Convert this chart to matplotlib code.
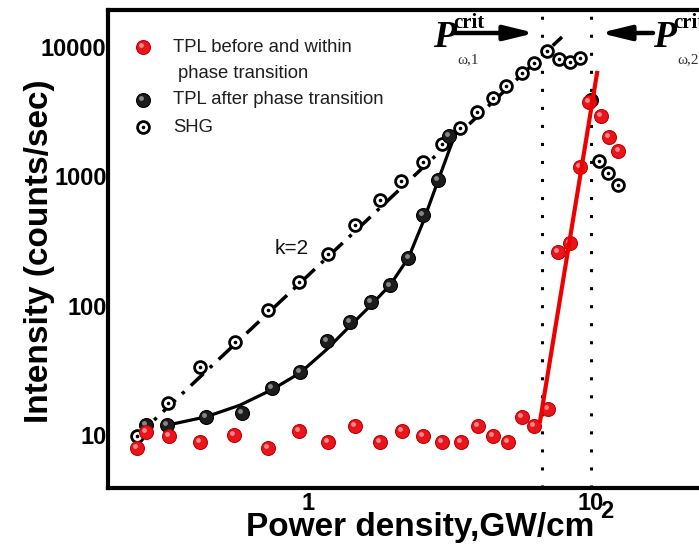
import matplotlib
matplotlib.use("Agg")
import matplotlib.pyplot as plt
from matplotlib.ticker import NullLocator
from matplotlib.transforms import offset_copy

plt.rcParams["font.family"] = ["Liberation Sans", "DejaVu Sans"]

# TPL before and within the phase transition (red)
red_x = [0.248, 0.267, 0.322, 0.414, 0.546, 0.717, 0.929, 1.17, 1.46, 1.79, 2.14, 2.54, 2.98, 3.46,
         3.97, 4.50, 5.07, 5.69, 6.30, 7.03, 7.66, 8.43, 9.14, 9.86, 10.8, 11.6, 12.5]
red_y = [7.9, 10.6, 9.8, 8.8, 10.0, 7.9, 10.8, 8.8, 11.8, 8.8, 10.8, 9.9, 8.8, 8.8,
         11.8, 9.8, 8.9, 13.7, 11.7, 15.8, 258, 306, 1172, 3770, 2940, 2020, 1575]

# TPL after the phase transition (black)
black_x = [0.267, 0.316, 0.434, 0.581, 0.746, 0.935, 1.16, 1.40, 1.66, 1.95, 2.26, 2.54, 2.87, 3.15, 9.98]
black_y = [11.9, 11.9, 13.8, 14.7, 23.0, 30.8, 53.6, 74.3, 107, 143, 234, 501, 935, 2050, 3880]

# SHG (open circles)
shg_x = [0.248, 0.320, 0.414, 0.551, 0.718, 0.927, 1.17, 1.46, 1.79, 2.13, 2.54, 2.96, 3.44,
         3.94, 4.51, 5.02, 5.69, 6.28, 7.00, 7.73, 8.43, 9.14, 10.7, 11.5, 12.5]
shg_y = [9.9, 17.6, 33.3, 52.6, 92.5, 153, 249, 420, 652, 914, 1282, 1775, 2345,
         3150, 4000, 4970, 6240, 7500, 9310, 8000, 7590, 8240, 1318, 1052, 855]

# fitted curves
shg_fit_x = [0.244, 7.89]
shg_fit_y = [9.5, 11900]
red_fit_x = [6.60, 10.5]
red_fit_y = [12.8, 6280]
black_fit_x = [0.316, 0.434, 0.573, 0.746, 0.935, 1.16, 1.40, 1.66, 1.95, 2.26, 2.54, 2.87, 3.16, 3.40]
black_fit_y = [11.9, 13.8, 17.0, 22.5, 30.2, 45.7, 69.2, 100, 145, 234, 437, 912, 1620, 2450]

# critical power densities
crit_x = [6.7, 10.0]

W, H = 699, 545


def fp(x, y):
    # pixel position (from top-left) -> figure fraction
    return x / W, 1 - y / H


fig = plt.figure(figsize=(W / 100, H / 100), dpi=100)
ax = fig.add_axes([108 / W, 1 - 488 / H, 622 / W, 478 / H])
ax.set_xscale("log")
ax.set_yscale("log")
ax.set_xlim(0.1956, 31.0)
ax.set_ylim(3.894, 19230)

for sp in ax.spines.values():
    sp.set_linewidth(3)

ax.set_xticks([1, 10])
ax.set_xticklabels(["1", "10"])
ax.set_yticks([10, 100, 1000, 10000])
ax.set_yticklabels(["10", "100", "1000", "10000"])
ax.xaxis.set_minor_locator(NullLocator())
ax.yaxis.set_minor_locator(NullLocator())
ax.tick_params(length=0, labelsize=17)
ax.tick_params(axis="y", pad=1)
ax.tick_params(axis="x", pad=3)
for lab in ax.get_xticklabels() + ax.get_yticklabels():
    lab.set_fontweight("bold")

for cx in crit_x:
    ax.axvline(cx, color="black", lw=2.2, ls=(0, (1, 4.9)), dash_capstyle="butt", zorder=1)

ax.plot(shg_fit_x, shg_fit_y, color="black", lw=2.5, ls=(0, (5, 2.5, 1, 2.5)), zorder=2)
ax.plot(black_fit_x, black_fit_y, color="black", lw=2.3, zorder=2)


def balls(x, y, face, edge, shine, z, transform=None, clip=True):
    tr = ax.transData if transform is None else transform
    ax.plot(x, y, "o", ls="none", ms=10, mfc=face, mec=edge, mew=0.8, zorder=z,
            transform=tr, clip_on=clip)
    hl = offset_copy(tr, fig=fig, x=-1.4, y=1.4, units="points")
    ax.plot(x, y, "o", ls="none", ms=3.5, mfc=shine, mec="none", alpha=0.85, zorder=z + 0.1,
            transform=hl, clip_on=clip)


def rings(x, y, z, transform=None, clip=True):
    tr = ax.transData if transform is None else transform
    ax.plot(x, y, "o", ls="none", ms=8.5, mfc="white", mec="black", mew=2, zorder=z,
            transform=tr, clip_on=clip)
    ax.plot(x, y, "o", ls="none", ms=2.6, mfc="black", mec="none", zorder=z + 0.1,
            transform=tr, clip_on=clip)


rings(shg_x, shg_y, 3)
balls(black_x, black_y, "#1c1c1c", "#000000", "#9a9a9a", 4)
balls(red_x, red_y, "#e8161c", "#c40000", "#ff9c9c", 5)
ax.plot(red_fit_x, red_fit_y, color="#ee0000", lw=3, zorder=6)

# legend
leg_tr = fig.transFigure
lx, ly = fp(143, 47)
balls([lx], [ly], "#e8161c", "#c40000", "#ff9c9c", 7, transform=leg_tr, clip=False)
lx, ly = fp(143, 100)
balls([lx], [ly], "#1c1c1c", "#000000", "#9a9a9a", 7, transform=leg_tr, clip=False)
lx, ly = fp(143, 127)
rings([lx], [ly], 7, transform=leg_tr, clip=False)
for txt, x, y in [("TPL before and within", 173, 47), ("phase transition", 178, 73),
                  ("TPL after phase transition", 173, 100), ("SHG", 173, 127)]:
    fig.text(*fp(x, y), txt, fontsize=13.3, color="#1e1e1e", ha="left", va="center")

fig.text(*fp(292, 248), "k=2", fontsize=15, color="#111111", ha="center", va="center")

# critical power markers
for x0, x1 in [(453, 535), (653, 600)]:
    ax.annotate("", xy=fp(x1, 33), xycoords="figure fraction",
                xytext=fp(x0, 33), textcoords="figure fraction",
                arrowprops=dict(arrowstyle="-|>,head_length=0.9,head_width=0.22", lw=3.2,
                                color="black", mutation_scale=20, shrinkA=0, shrinkB=0))
for px, sub in [(433, "\u03c9,1"), (653, "\u03c9,2")]:
    fig.text(*fp(px, 47), "P", family="Liberation Serif", style="italic", weight="bold",
             fontsize=27, ha="left", va="baseline")
    fig.text(*fp(px + 20, 28), "crit", family="Liberation Serif", weight="bold",
             fontsize=15, ha="left", va="baseline")
    fig.text(*fp(px + 24, 63), sub, family="Liberation Serif", fontsize=11,
             color="#333333", ha="left", va="baseline")

fig.text(*fp(40, 251), "Intensity (counts/sec)", rotation=90, fontsize=24, weight="bold",
         ha="center", va="center")
fig.text(*fp(420, 536), "Power density,GW/cm", fontsize=24, weight="bold",
         ha="center", va="baseline")
fig.text(*fp(607, 511), "2", fontsize=17, weight="bold", ha="center", va="center")

fig.savefig("out.png", dpi=100)
